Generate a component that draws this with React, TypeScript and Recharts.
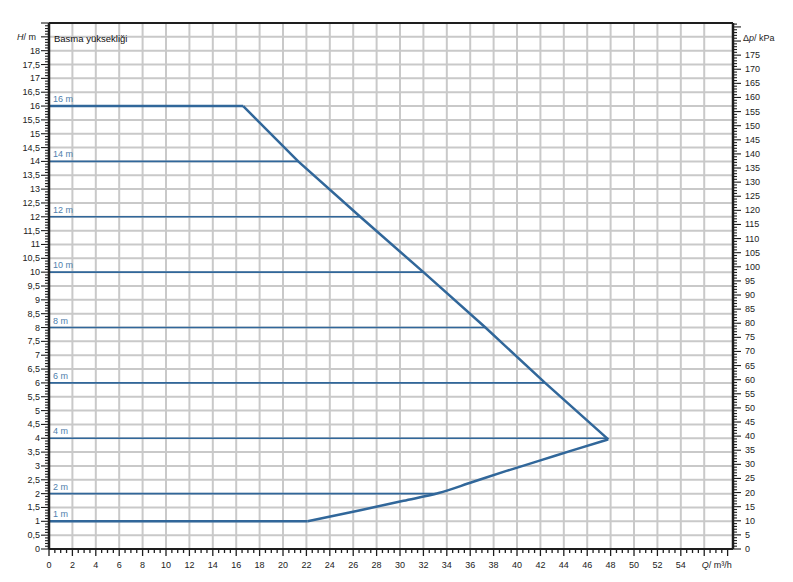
import { CartesianGrid, ComposedChart, Line, ReferenceLine, XAxis, YAxis } from "recharts";

const FONT = '"Liberation Sans", Arial, sans-serif';
const BLUE = "#31679a";
const LABEL_BLUE = "#4f80ad";
const AXIS = "#1e1e1e";

// head levels (m) and the flow (m³/h) where each level meets the limit curve
const levelHeads = [1, 2, 4, 6, 8, 10, 12, 14, 16];
const levelEnds = [22.1, 33.1, 47.7, 42.4, 37.3, 32.0, 26.6, 21.3, 16.6];

// max line: from the 16 m corner down to the tip
const maxFlow = [16.6, 21.3, 26.6, 32.0, 37.3, 42.4, 47.8];
const maxHead = [16, 14, 12, 10, 8, 6, 3.96];

// min curve: from 1 m up to the tip
const minFlow = [22.1, 26.6, 30.3, 33.3, 36.2, 39.1, 42.0, 44.8, 47.8];
const minHead = [1.0, 1.4, 1.74, 2.02, 2.42, 2.82, 3.2, 3.57, 3.96];

const flowTicks = Array.from({ length: 117 }, (_, i) => i / 2);
const headTicks = Array.from({ length: 191 }, (_, i) => i / 10);
const kpaTicks = Array.from({ length: 187 }, (_, i) => i);
const gridHeads = Array.from({ length: 39 }, (_, i) => i / 2);
const gridFlows = Array.from({ length: 29 }, (_, i) => i * 2);

const maxData = maxFlow.map((q, i) => ({ q, h: maxHead[i] }));
const minData = minFlow.map((q, i) => ({ q, h: minHead[i] }));

const txt = { fontFamily: FONT, fontSize: 9, fill: "#222" };

function FlowTick({ x, y, payload }: any) {
  const v = payload.value;
  const major = Math.abs(v % 2) < 1e-6;
  return (
    <g>
      <line x1={x} x2={x} y1={y} y2={y + (major ? 7 : 4)} stroke={AXIS} strokeWidth={1.3} />
      {major && v <= 54 && (
        <text x={x} y={y + 18.5} textAnchor="middle" {...txt}>
          {v}
        </text>
      )}
      {v === 56 && (
        <text x={x - 2.5} y={y + 18.5} textAnchor="start" {...txt}>
          <tspan fontStyle="italic">Q</tspan>/ m³/h
        </text>
      )}
    </g>
  );
}

function HeadTick({ x, y, payload }: any) {
  const v = payload.value;
  const tenth = Math.round(v * 10);
  const major = tenth % 5 === 0;
  let label: any = null;
  if (major && tenth <= 180) label = String(v).replace(".", ",");
  if (tenth === 185)
    label = (
      <>
        <tspan fontStyle="italic">H</tspan>/ m
      </>
    );
  return (
    <g>
      <line x1={x - (major ? 8 : 4)} x2={x} y1={y} y2={y} stroke={AXIS} strokeWidth={1.1} />
      {label !== null && (
        <text x={tenth === 185 ? x - 13 : x - 9} y={y + 3} textAnchor="end" {...txt}>
          {label}
        </text>
      )}
    </g>
  );
}

function KpaTick({ x, y, payload }: any) {
  const v = payload.value;
  const major = v % 5 === 0;
  return (
    <g>
      <line x1={x} x2={x + (major ? 8 : 4)} y1={y} y2={y} stroke={AXIS} strokeWidth={1.1} />
      {major && v <= 175 && (
        <text x={x + 12} y={y + 3} textAnchor="start" {...txt}>
          {v}
        </text>
      )}
      {v === 180 && (
        <text x={x + 10} y={y} textAnchor="start" {...txt}>
          Δ<tspan fontStyle="italic">p</tspan>/ kPa
        </text>
      )}
    </g>
  );
}

export default function App() {
  return (
    <div style={{ position: "absolute", left: 0, top: 0, background: "#fff" }}>
      <ComposedChart width={793} height={582} margin={{ top: 23, right: 0, bottom: 0, left: 0 }}>
        <CartesianGrid
          horizontalValues={gridHeads}
          verticalValues={gridFlows}
          stroke="#c9c9c9"
          strokeWidth={2}
        />
        <XAxis
          dataKey="q"
          type="number"
          domain={[0, 58.46]}
          allowDataOverflow
          ticks={flowTicks}
          interval={0}
          tickSize={0}
          tickMargin={0}
          tickLine={false}
          tick={(p: any) => <FlowTick {...p} />}
          axisLine={{ stroke: AXIS, strokeWidth: 2 }}
          height={33}
        />
        <YAxis
          type="number"
          domain={[0, 19]}
          allowDataOverflow
          ticks={headTicks}
          interval={0}
          tickSize={0}
          tickMargin={0}
          tickLine={false}
          tick={(p: any) => <HeadTick {...p} />}
          axisLine={{ stroke: AXIS, strokeWidth: 2.5 }}
          width={49}
        />
        <YAxis
          yAxisId="kpa"
          orientation="right"
          type="number"
          domain={[0, 186.39]}
          allowDataOverflow
          ticks={kpaTicks}
          interval={0}
          tickSize={0}
          tickMargin={0}
          tickLine={false}
          tick={(p: any) => <KpaTick {...p} />}
          axisLine={{ stroke: AXIS, strokeWidth: 2.5 }}
          width={60}
        />
        <ReferenceLine y={19} stroke={AXIS} strokeWidth={2} />
        {levelHeads.map((h, i) => (
          <Line
            key={h}
            data={[
              { q: 0, h },
              { q: levelEnds[i], h },
            ]}
            dataKey="h"
            type="linear"
            stroke={BLUE}
            strokeWidth={h === 1 || h === 16 ? 2.5 : 1.6}
            dot={false}
            activeDot={false}
            isAnimationActive={false}
            label={(p: any) =>
              p.x < 60 ? (
                <text key="lbl" x={p.x + 4} y={p.y - 4} fontFamily={FONT} fontSize={9} fill={LABEL_BLUE}>
                  {h} m
                </text>
              ) : (
                <g key={"e" + p.index} />
              )
            }
          />
        ))}
        <Line
          data={maxData}
          dataKey="h"
          type="linear"
          stroke={BLUE}
          strokeWidth={2.5}
          dot={false}
          activeDot={false}
          isAnimationActive={false}
        />
        <Line
          data={minData}
          dataKey="h"
          type="monotone"
          stroke={BLUE}
          strokeWidth={2.5}
          dot={false}
          activeDot={false}
          isAnimationActive={false}
        />
        <text x={54} y={42} fontFamily={FONT} fontSize={9.5} fill="#111">
          Basma yüksekliği
        </text>
      </ComposedChart>
    </div>
  );
}
